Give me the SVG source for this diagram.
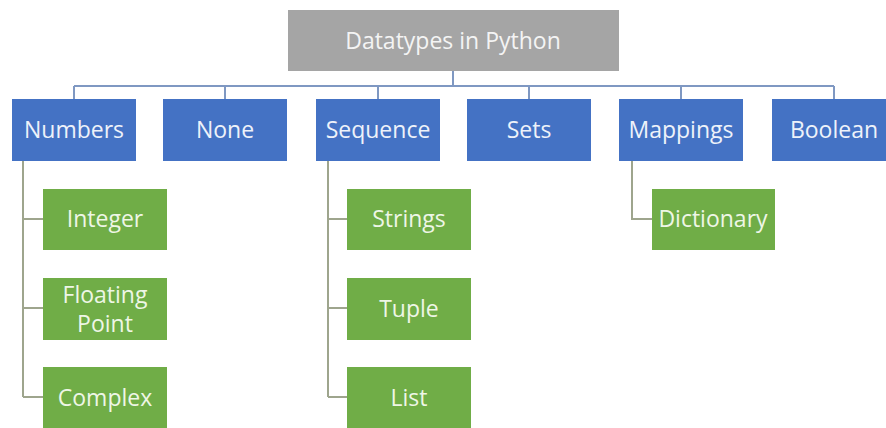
<svg xmlns="http://www.w3.org/2000/svg" width="886" height="428" viewBox="0 0 886 428">
<style>
.root{fill:#a5a5a5}
.cat{fill:#4472c4}
.leaf{fill:#70ad47}
text{font-family:"Open Sans","Liberation Sans",Arial,sans-serif;font-size:23px;text-anchor:middle}
.tc{fill:#eef2fa}
.tl{fill:#eef6e6}
.tr{fill:#f4f4f4}
.c1{fill:none;stroke:#7f98c2;stroke-width:2}
.c2{fill:none;stroke:#9ea58d;stroke-width:2}
</style>
<rect width="886" height="428" fill="#ffffff"/>
<g id="connectors">
<path class="c1" d="M453 71V86M74 86H834M74 86V99M225 86V99M378 86V99M529 86V99M681 86V99M834 86V99"/>
<path class="c2" d="M23 161V397M23 219H43M23 308H43M23 397H43"/>
<path class="c2" d="M328 161V397M328 219H347M328 308H347M328 397H347"/>
<path class="c2" d="M632 161V219H652"/>
</g>
<g id="root"><rect class="root" x="288" y="10" width="331" height="61"/><text class="tr" x="453" y="49">Datatypes in Python</text></g>
<g id="numbers"><rect class="cat" x="12" y="99" width="124" height="62"/><text class="tc" x="74" y="138">Numbers</text></g>
<g id="none"><rect class="cat" x="163" y="99" width="124" height="62"/><text class="tc" x="225" y="138">None</text></g>
<g id="sequence"><rect class="cat" x="316" y="99" width="124" height="62"/><text class="tc" x="378" y="138">Sequence</text></g>
<g id="sets"><rect class="cat" x="467" y="99" width="124" height="62"/><text class="tc" x="529" y="138">Sets</text></g>
<g id="mappings"><rect class="cat" x="619" y="99" width="124" height="62"/><text class="tc" x="681" y="138">Mappings</text></g>
<g id="boolean"><rect class="cat" x="772" y="99" width="124" height="62"/><text class="tc" x="834" y="138">Boolean</text></g>
<g id="integer"><rect class="leaf" x="43" y="189" width="124" height="61"/><text class="tl" x="105" y="227">Integer</text></g>
<g id="floating"><rect class="leaf" x="43" y="278" width="124" height="62"/><text class="tl" x="105" y="303">Floating</text><text class="tl" x="105" y="332">Point</text></g>
<g id="complex"><rect class="leaf" x="43" y="367" width="124" height="62"/><text class="tl" x="105" y="406">Complex</text></g>
<g id="strings"><rect class="leaf" x="347" y="189" width="124" height="61"/><text class="tl" x="409" y="227">Strings</text></g>
<g id="tuple"><rect class="leaf" x="347" y="278" width="124" height="62"/><text class="tl" x="409" y="317">Tuple</text></g>
<g id="list"><rect class="leaf" x="347" y="367" width="124" height="62"/><text class="tl" x="409" y="406">List</text></g>
<g id="dictionary"><rect class="leaf" x="652" y="189" width="123" height="61"/><text class="tl" x="713" y="227">Dictionary</text></g>
</svg>
